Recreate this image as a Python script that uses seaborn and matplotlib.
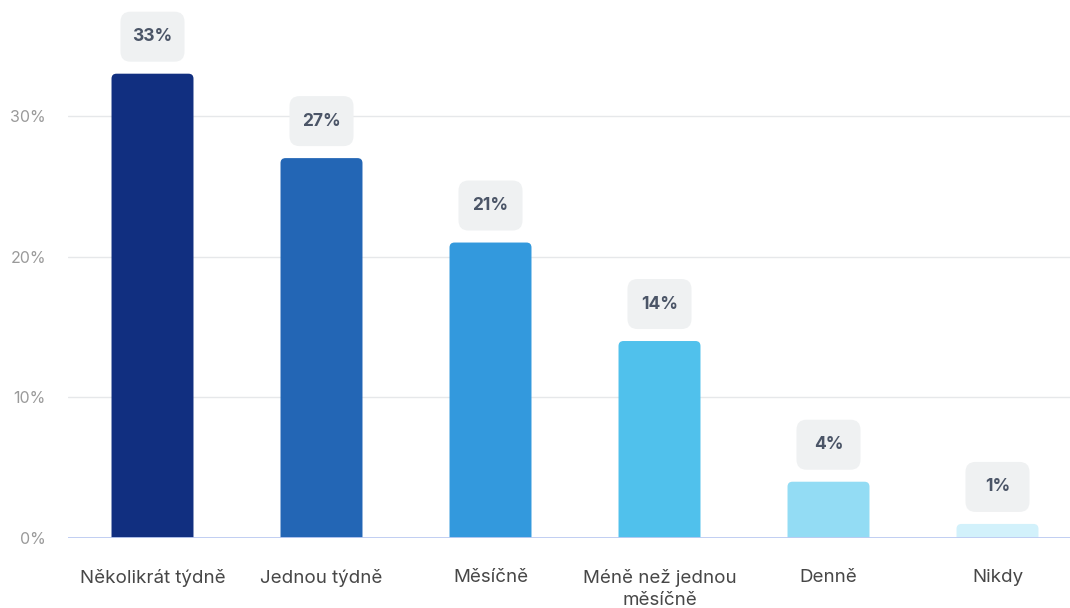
import matplotlib
matplotlib.use("Agg")
import matplotlib.pyplot as plt
from matplotlib.patches import FancyBboxPatch
import seaborn as sns
import pandas as pd

categories = ["Několikrát týdně", "Jednou týdně", "Měsíčně",
              "Méně než jednou\nměsíčně", "Denně", "Nikdy"]
values = [33, 27, 21, 14, 4, 1]
bar_colors = ["#112f80", "#2366b5", "#3399dd", "#50c1ec", "#93dcf4", "#d2f1fb"]
y_ticks = [0, 10, 20, 30]
y_tick_labels = ["0%", "10%", "20%", "30%"]

sns.set_theme(style="white")
plt.rcParams["font.family"] = ["Inter", "DejaVu Sans"]

W, H, DPI = 1070, 608, 100
fig = plt.figure(figsize=(W / DPI, H / DPI), dpi=DPI)
left_px, bottom_px = 68, 70
ax = fig.add_axes([left_px / W, bottom_px / H, (W - left_px) / W, (H - bottom_px) / H])

df = pd.DataFrame({"cat": categories, "val": values})
sns.barplot(data=df, x="cat", y="val", hue="cat", palette=bar_colors,
            legend=False, width=0.485, ax=ax)

slot_px = 169.0
ax.set_xlim(-0.5, (W - left_px) / slot_px - 0.5)
ax.set_ylim(0, (H - bottom_px) / 14.07)

fig.canvas.draw()
px_x = ax.transData.transform((1, 0))[0] - ax.transData.transform((0, 0))[0]
px_y = ax.transData.transform((0, 1))[1] - ax.transData.transform((0, 0))[1]

# replace the plain rectangles with rounded-top bars
for patch, color in zip(list(ax.patches), bar_colors):
    x, w, h = patch.get_x(), patch.get_width(), patch.get_height()
    patch.set_visible(False)
    r = 5 / px_x
    ext = 8 / px_y
    rb = FancyBboxPatch((x, -ext), w, h + ext,
                        boxstyle=f"round,pad=0,rounding_size={r}",
                        mutation_aspect=px_x / px_y,
                        facecolor=color, edgecolor="none", zorder=3)
    ax.add_patch(rb)

    # value badge above the bar
    cx = x + w / 2
    cy = h + 37 / px_y
    bw, bh = 64 / px_x, 50 / px_y
    badge = FancyBboxPatch((cx - bw / 2, cy - bh / 2), bw, bh,
                           boxstyle=f"round,pad=0,rounding_size={10 / px_x}",
                           mutation_aspect=px_x / px_y,
                           facecolor="#eff1f2", edgecolor="none",
                           zorder=4, clip_on=False)
    ax.add_patch(badge)
    ax.text(cx, cy, f"{h:.0f}%", ha="center", va="center", fontsize=12.5,
            fontweight="bold", color="#4b5567", zorder=5)

ax.set_yticks(y_ticks)
ax.set_yticklabels(y_tick_labels)
ax.yaxis.grid(True, color="#e6e8ea", linewidth=1)
ax.set_axisbelow(True)
ax.axhline(0, color="#bccbf2", linewidth=1.3, zorder=4)
for s in ax.spines.values():
    s.set_visible(False)
ax.tick_params(axis="y", length=0, pad=16, labelsize=11.5, labelcolor="#9a9a9a")
ax.tick_params(axis="x", length=0, pad=22, labelsize=13.5, labelcolor="#474747")
for lbl in ax.get_xticklabels():
    lbl.set_linespacing(1.45)
ax.set_xlabel("")
ax.set_ylabel("")

fig.savefig("out.png", dpi=DPI)
